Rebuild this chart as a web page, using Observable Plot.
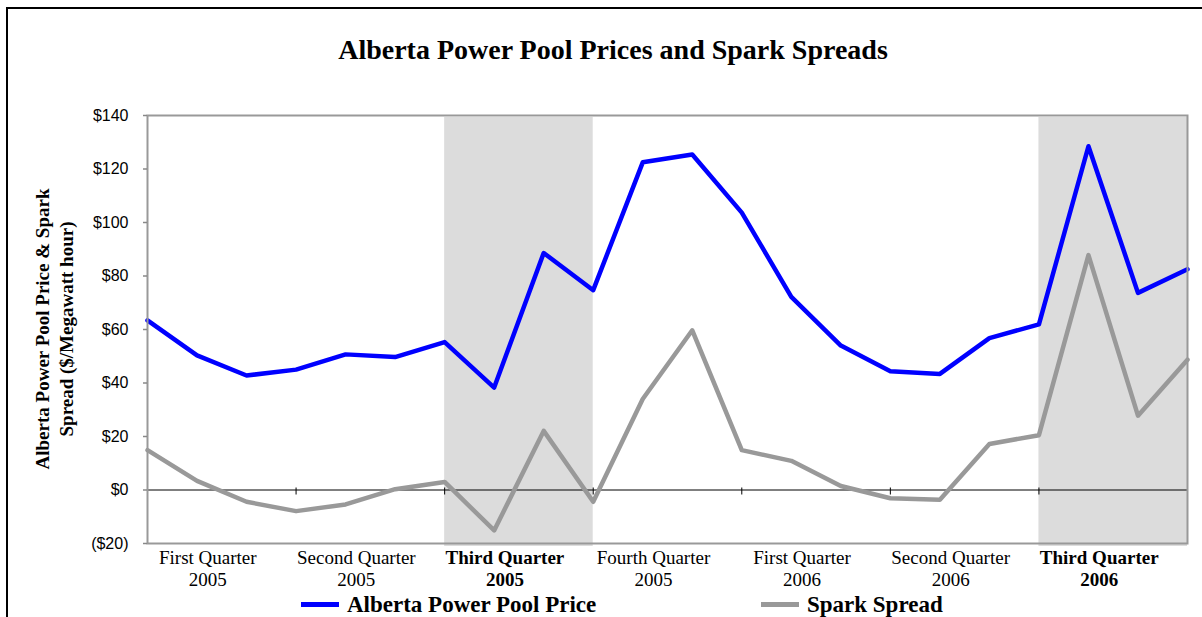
<!DOCTYPE html>
<html>
<head>
<meta charset="utf-8">
<script src="https://cdn.jsdelivr.net/npm/d3@7"></script>
<script src="https://cdn.jsdelivr.net/npm/@observablehq/plot@0.6"></script>
<style>
  body { margin: 0; background: #fff; }
  #wrap { position: relative; width: 1202px; height: 617px; overflow: hidden; background: #fff; font-family: "Liberation Serif", "Times New Roman", serif; }
  #chart { position: absolute; left: 0; top: 0; }
  #border { position: absolute; left: 6px; top: 7px; width: 1400px; height: 800px; border-left: 2px solid #000; border-top: 2px solid #000; }
  #title { position: absolute; left: 0; top: 35px; width: 1226px; text-align: center; font-size: 28px; line-height: 30px; font-weight: bold; color: #000; white-space: nowrap; }
  #ytitle { position: absolute; left: 55px; top: 329px; transform: translate(-50%, -50%) rotate(-90deg); text-align: center; font-size: 19px; line-height: 24px; font-weight: bold; white-space: nowrap; color: #000; }
  .sw { position: absolute; top: 602px; width: 38px; height: 5px; }
  .lg { position: absolute; top: 592px; font-size: 23px; line-height: 26px; font-weight: bold; white-space: nowrap; color: #000; }
</style>
</head>
<body>
<div id="wrap">
  <div id="chart"></div>
  <div id="border"></div>
  <div id="title"></div>
  <div id="ytitle"></div>
  <div class="sw" id="sw1"></div>
  <div class="lg" id="lg1"></div>
  <div class="sw" id="sw2"></div>
  <div class="lg" id="lg2"></div>
</div>
<script>
// ---- data ----
const chartTitle = "Alberta Power Pool Prices and Spark Spreads";
const yTitleLines = ["Alberta Power Pool Price & Spark", "Spread ($/Megawatt hour)"];
const seriesNames = ["Alberta Power Pool Price", "Spark Spread"];
const seriesColors = ["#0000ff", "#999999"];

const poolPrice = [63.4, 50.3, 42.8, 45.0, 50.7, 49.7, 55.3, 38.3, 88.6, 74.7, 122.5, 125.4, 103.7, 72.2, 54.0, 44.4, 43.4, 56.8, 61.9, 128.5, 73.7, 82.5];
const sparkSpread = [14.9, 3.4, -4.4, -7.9, -5.4, 0.3, 3.0, -15.1, 22.1, -4.4, 34.0, 59.7, 14.9, 10.9, 1.5, -3.1, -3.6, 17.2, 20.5, 87.8, 27.8, 48.7];

const quarterLabels = ["First Quarter\n2005", "Second Quarter\n2005", "Third Quarter\n2005", "Fourth Quarter\n2005", "First Quarter\n2006", "Second Quarter\n2006", "Third Quarter\n2006"];
const highlightedQuarters = ["Third Quarter\n2005", "Third Quarter\n2006"];
const yTicks = [-20, 0, 20, 40, 60, 80, 100, 120, 140];
const pointsPerQuarter = 3;

// ---- derived tables ----
const priceRows = poolPrice.map((v, i) => ({i, v}));
const sparkRows = sparkSpread.map((v, i) => ({i, v}));
const quarterRows = quarterLabels.map((label, q) => ({
  label,
  start: q * pointsPerQuarter,
  end: (q + 1) * pointsPerQuarter,
  mid: q * pointsPerQuarter + pointsPerQuarter / 2,
  bold: highlightedQuarters.includes(label)
}));
const boundaries = quarterRows.slice(1).map(d => d.start);
const fmt = d => d < 0 ? `($${-d})` : `$${d}`;

const chart = Plot.plot({
  width: 1202,
  height: 617,
  marginLeft: 147,
  marginRight: 15,
  marginTop: 115,
  marginBottom: 74,
  x: {domain: [0, poolPrice.length - 1], axis: null, label: null},
  y: {domain: [d3.min(yTicks), d3.max(yTicks)], axis: null, label: null},
  style: {background: "transparent", overflow: "visible"},
  marks: [
    Plot.rect(quarterRows.filter(d => d.bold), {x1: "start", x2: "end", fill: "#dcdcdc", insetTop: 2, insetBottom: -3}),
    Plot.ruleY([0], {stroke: "#000", strokeWidth: 1}),
    Plot.ruleX(boundaries, {x: d => d, y1: 0, y2: 0, insetTop: -2, insetBottom: -5, stroke: "#000", strokeWidth: 1}),
    Plot.line(sparkRows, {x: "i", y: "v", stroke: seriesColors[1], strokeWidth: 4.5}),
    Plot.line(priceRows, {x: "i", y: "v", stroke: seriesColors[0], strokeWidth: 4.5}),
    Plot.frame({stroke: "#999", strokeWidth: 2}),
    Plot.axisY({ticks: yTicks, tickFormat: fmt, label: null, tickSize: 4, tickPadding: 15, fontSize: 16, fontFamily: "Liberation Sans, Arial, sans-serif", stroke: "#888", color: "#000", strokeWidth: 1.5}),
    Plot.text(quarterRows.filter(d => !d.bold), {x: "mid", text: "label", frameAnchor: "bottom", lineAnchor: "top", dy: 5, dx: -14, fontSize: 19, lineHeight: 1.16, fontFamily: "Liberation Serif, Times New Roman, serif", fill: "#000"}),
    Plot.text(quarterRows.filter(d => d.bold), {x: "mid", text: "label", frameAnchor: "bottom", lineAnchor: "top", dy: 5, dx: -14, fontSize: 19, lineHeight: 1.16, fontWeight: "bold", fontFamily: "Liberation Serif, Times New Roman, serif", fill: "#000"})
  ]
});
document.getElementById("chart").appendChild(chart);

document.getElementById("title").textContent = chartTitle;
const yt = document.getElementById("ytitle");
yt.innerHTML = "";
yTitleLines.forEach((t, k) => { if (k) yt.appendChild(document.createElement("br")); yt.appendChild(document.createTextNode(t)); });

const sw1 = document.getElementById("sw1"), sw2 = document.getElementById("sw2");
sw1.style.left = "301px"; sw1.style.background = seriesColors[0];
sw2.style.left = "761px"; sw2.style.background = seriesColors[1];
const lg1 = document.getElementById("lg1"), lg2 = document.getElementById("lg2");
lg1.style.left = "347px"; lg1.textContent = seriesNames[0];
lg2.style.left = "807px"; lg2.textContent = seriesNames[1];
</script>
</body>
</html>
